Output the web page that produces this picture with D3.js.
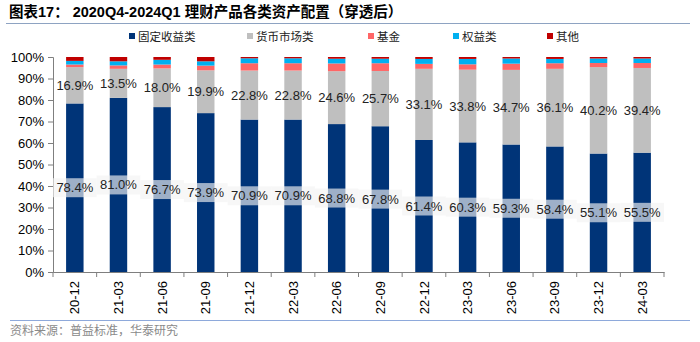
<!DOCTYPE html>
<html>
<head>
<meta charset="utf-8">
<script src="https://cdn.jsdelivr.net/npm/d3@7"></script>
<style>
body { margin: 0; background: #fff; }
svg text { font-family: "Liberation Sans", Arial, "Noto Sans CJK SC", sans-serif; }
.cn { font-family: "Noto Sans CJK SC", sans-serif; }
</style>
</head>
<body>
<svg id="chart" width="700" height="342"></svg>
<script>
// dati (%)
const periodi = ["20-12","21-03","21-06","21-09","21-12","22-03","22-06","22-09","22-12","23-03","23-06","23-09","23-12","24-03"]
const fisso = [78.4, 81.0, 76.7, 73.9, 70.9, 70.9, 68.8, 67.8, 61.4, 60.3, 59.3, 58.4, 55.1, 55.5]
const monetario = [16.9, 13.5, 18.0, 19.9, 22.8, 22.8, 24.6, 25.7, 33.1, 33.8, 34.7, 36.1, 40.2, 39.4]
const fondi = [1.2, 1.6, 1.8, 2.2, 3.4, 3.4, 3.6, 3.6, 2.3, 2.5, 2.9, 2.6, 1.9, 2.3]
const azioni = [1.7, 1.9, 2.2, 2.0, 2.3, 2.3, 2.2, 2.1, 2.3, 2.5, 2.4, 2.0, 2.1, 2.1]
const altri = [1.8, 2.0, 1.3, 2.0, 0.6, 0.6, 0.8, 0.8, 0.9, 0.9, 0.7, 0.9, 0.7, 0.7]
const serie = ["固定收益类", "货币市场类", "基金", "权益类", "其他"]
const colori = ["#003478", "#BFBFBF", "#FF6666", "#00B0F0", "#C00000"]
const yTicks = [0,10,20,30,40,50,60,70,80,90,100]

const svg = d3.select('#chart')
const mLeft = 53, mRight = 664, mTop = 57, mBottom = 272

const data = periodi.map((p, i) => ({
    periodo: p,
    "固定收益类": fisso[i],
    "货币市场类": monetario[i],
    "基金": fondi[i],
    "权益类": azioni[i],
    "其他": altri[i]
}))
const stack = d3.stack().keys(serie)(data)

const x = d3.scaleBand().domain(periodi).range([mLeft, mRight]).paddingInner(0.6).paddingOuter(0.3)
const xb = d3.scaleBand().domain(periodi).range([mLeft, mRight])
const y = d3.scaleLinear().domain([0, 100]).range([mBottom, mTop])
const colore = d3.scaleOrdinal().domain(serie).range(colori)

// titolo
svg.append("text").attr("x", 9).attr("y", 17)
    .attr("font-size", "14.5px").attr("font-weight", "bold").attr("fill", "#000")
    .text("图表17：  2020Q4-2024Q1 理财产品各类资产配置（穿透后）")
svg.append("line").attr("x1", 6).attr("x2", 690).attr("y1", 23.5).attr("y2", 23.5)
    .attr("stroke", "#8EA3C2").attr("stroke-width", 1.2)

// legenda
const legX = [129, 247, 368, 453, 547]
serie.forEach((s, i) => {
    svg.append("rect").attr("x", legX[i]).attr("y", 33).attr("width", 6).attr("height", 6).attr("fill", colori[i])
    svg.append("text").attr("class", "cn").attr("x", legX[i] + 9).attr("y", 40.5)
        .attr("font-size", "11.5px").attr("fill", "#222").text(s)
})

// barre
svg.append("g").selectAll("g").data(stack).enter().append("g")
    .attr("fill", d => colore(d.key))
    .selectAll("rect").data(d => d).enter().append("rect")
    .attr("x", d => x(d.data.periodo))
    .attr("width", x.bandwidth())
    .attr("y", d => y(d[1]))
    .attr("height", d => y(d[0]) - y(d[1]))

// assi
const assey = svg.append("g").attr("transform", `translate(${mLeft},0)`)
    .call(d3.axisLeft(y).tickValues(yTicks).tickFormat(d => d + "%").tickSizeOuter(0).tickSize(5))
assey.selectAll("text").attr("font-size", "13px").attr("fill", "#000").attr("dx", "-1")
assey.select(".domain").attr("stroke", "#7f7f7f")
assey.selectAll(".tick line").attr("stroke", "#7f7f7f")

const assex = svg.append("g").attr("transform", `translate(0,${mBottom})`)
    .call(d3.axisBottom(xb).tickSize(0).tickSizeOuter(0))
assex.select(".domain").attr("stroke", "#7f7f7f")
assex.selectAll("text").attr("font-size", "13px").attr("fill", "#000")
    .attr("transform", "rotate(-90)").attr("text-anchor", "end")
    .attr("x", -9).attr("y", 0).attr("dy", "0.35em")
// tacche tra le categorie
svg.append("g").selectAll("line").data(periodi.concat(["_fine"])).enter().append("line")
    .attr("x1", (d, i) => i < periodi.length ? xb(d) : mRight)
    .attr("x2", (d, i) => i < periodi.length ? xb(d) : mRight)
    .attr("y1", mBottom).attr("y2", mBottom + 5)
    .attr("stroke", "#7f7f7f")

// etichette fisso (con sfondo)
const etFisso = svg.append("g").selectAll("g").data(stack[0]).enter().append("g")
etFisso.append("rect")
    .attr("x", d => xb(d.data.periodo))
    .attr("width", xb.bandwidth())
    .attr("y", d => y((d[0] + d[1]) / 2) - 9.5)
    .attr("height", 19)
    .attr("fill", "#F2F2F2").attr("opacity", 0.65)
etFisso.append("text")
    .attr("x", d => xb(d.data.periodo) + xb.bandwidth() / 2)
    .attr("y", d => y((d[0] + d[1]) / 2))
    .attr("dy", "0.35em").attr("text-anchor", "middle")
    .attr("font-size", "13px").attr("fill", "#222")
    .text(d => d.data["固定收益类"].toFixed(1) + "%")

// etichette monetario
svg.append("g").selectAll("text").data(stack[1]).enter().append("text")
    .attr("x", d => xb(d.data.periodo) + xb.bandwidth() / 2)
    .attr("y", d => y((d[0] + d[1]) / 2))
    .attr("dy", "0.35em").attr("text-anchor", "middle")
    .attr("font-size", "13px").attr("fill", "#222")
    .text(d => d.data["货币市场类"].toFixed(1) + "%")

// fonte
svg.append("line").attr("x1", 10).attr("x2", 690).attr("y1", 320.5).attr("y2", 320.5)
    .attr("stroke", "#8EA9DB").attr("stroke-width", 1)
svg.append("text").attr("class", "cn").attr("x", 10).attr("y", 335)
    .attr("font-size", "12px").attr("fill", "#8a8a8a").text("资料来源：普益标准，华泰研究")
</script>
</body>
</html>
